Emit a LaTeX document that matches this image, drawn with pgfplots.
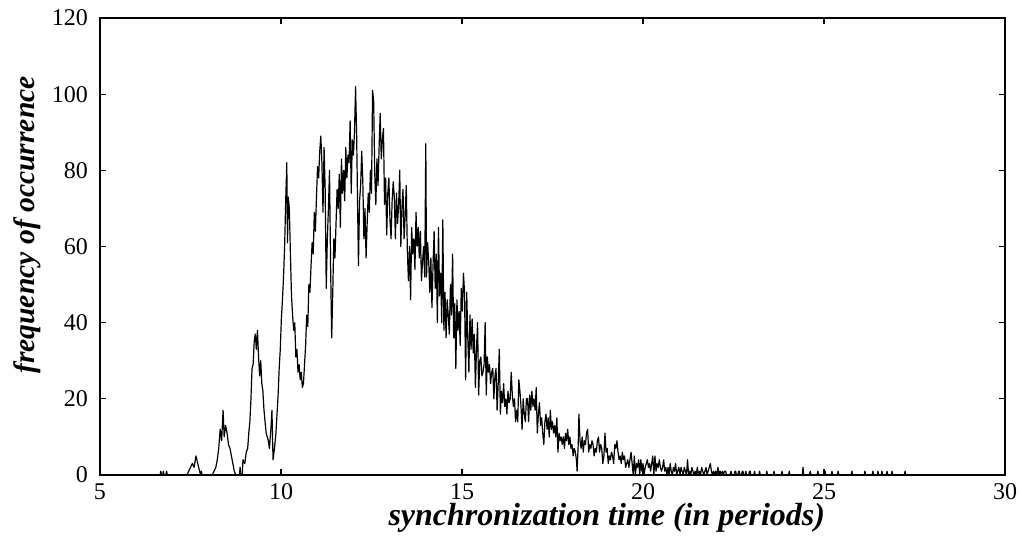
\documentclass[border=0pt]{standalone}
\usepackage{pgfplots}
\pgfplotsset{compat=1.18}
\usepackage{fontspec}
\setmainfont{Liberation Serif}
\begin{document}
\begin{tikzpicture}
\begin{axis}[
  name=ax,
  scale only axis,
  width=452.5pt, height=228.5pt,
  xmin=5, xmax=30, ymin=0, ymax=120,
  xtick={5,10,15,20,25,30},
  ytick={0,20,40,60,80,100,120},
  tick align=inside,
  major tick length=3pt,
  tick style={line width=0.6pt,black},
  axis line style={line width=0.9pt},
  /pgf/number format/assume math mode=true,
  ticklabel style={font=\fontsize{12}{14}\selectfont},
  yticklabel style={xshift=-2.5pt},
  xticklabel style={inner sep=0pt, anchor=north, yshift=-4pt},
  xlabel={synchronization time (in periods)},
  ylabel={frequency of occurrence},
  xlabel style={at={(axis description cs:0.56,-0.11)},anchor=base,inner sep=0pt,font=\fontsize{16}{18}\selectfont\bfseries\itshape},
  ylabel style={at={(axis description cs:-0.072,0.547)},anchor=base,inner sep=0pt,font=\fontsize{14.8}{17}\selectfont\bfseries\itshape},
]
\addplot[black, line width=0.6pt, line join=round] table {
x y
6.60 0
6.66 0
6.68 1
6.70 0
6.73 0
6.75 1
6.77 0
6.82 0
6.84 1
6.86 0
7.40 0
7.45 1
7.50 2
7.55 3
7.60 2
7.65 5
7.70 3
7.75 1
7.78 0
7.80 1
7.82 0
8.10 0
8.15 1
8.20 2
8.24 4
8.28 7
8.32 12
8.36 9
8.40 17
8.43 10
8.47 13
8.51 11
8.55 8
8.59 7
8.63 5
8.67 3
8.71 1
8.75 0
8.85 0
8.87 2
8.89 0
8.93 0
8.95 4
9.00 3
9.04 6
9.08 7
9.11 11
9.14 14
9.17 20
9.20 28
9.23 29
9.26 35
9.29 37
9.32 33
9.35 38
9.38 31
9.41 26
9.44 30
9.47 24
9.50 22
9.53 17
9.56 14
9.59 11
9.62 10
9.65 9
9.68 7
9.72 12
9.75 17
9.78 4
9.82 7
9.86 11
9.89 16
9.92 21
9.95 28
9.98 33
10.01 41
10.04 46
10.07 52
10.10 60
10.13 72
10.16 82
10.18 61
10.20 73
10.23 70
10.26 58
10.29 47
10.32 42
10.35 38
10.38 40
10.41 31
10.44 33
10.47 27
10.50 29
10.53 25
10.56 27
10.59 23
10.62 24
10.65 29
10.68 34
10.71 42
10.74 39
10.77 50
10.80 48
10.83 55
10.86 61
10.89 58
10.92 69
10.95 64
10.98 73
11.01 81
11.04 78
11.07 85
11.10 89
11.13 82
11.16 69
11.19 86
11.22 75
11.25 49
11.28 62
11.31 70
11.34 80
11.37 55
11.40 36
11.43 48
11.46 62
11.49 57
11.52 66
11.55 75
11.58 70
11.61 79
11.64 65
11.67 83
11.70 74
11.73 80
11.76 72
11.79 86
11.82 78
11.85 84
11.88 82
11.91 93
11.94 74
11.97 88
12.00 84
12.03 90
12.06 102
12.09 89
12.12 68
12.14 55
12.17 72
12.20 76
12.23 85
12.26 77
12.29 62
12.32 70
12.35 57
12.38 66
12.41 74
12.44 69
12.47 80
12.50 74
12.53 101
12.56 98
12.59 79
12.62 71
12.65 83
12.68 76
12.71 86
12.74 95
12.77 83
12.80 88
12.83 91
12.86 71
12.89 78
12.92 63
12.95 74
12.98 78
13.01 67
13.04 62
13.07 72
13.10 77
13.13 73
13.16 62
13.19 74
13.22 66
13.25 71
13.28 80
13.31 60
13.34 70
13.37 75
13.40 62
13.43 68
13.46 76
13.49 59
13.52 51
13.55 60
13.58 46
13.61 65
13.64 58
13.67 62
13.70 54
13.73 69
13.76 60
13.79 65
13.82 57
13.85 64
13.88 51
13.91 56
13.94 60
13.97 52
14.00 87
14.02 52
14.05 61
14.08 56
14.11 48
14.14 57
14.17 44
14.20 55
14.23 64
14.26 49
14.29 58
14.32 40
14.35 65
14.38 47
14.41 53
14.44 40
14.47 67
14.50 38
14.53 48
14.56 36
14.59 46
14.62 42
14.65 37
14.68 50
14.71 42
14.74 58
14.77 36
14.80 45
14.83 28
14.86 46
14.89 38
14.92 43
14.95 34
14.98 49
15.01 43
15.04 53
15.07 48
15.10 25
15.13 48
15.16 36
15.19 27
15.22 42
15.25 33
15.28 41
15.31 32
15.34 37
15.37 23
15.40 33
15.43 40
15.46 21
15.49 30
15.52 31
15.55 26
15.58 27
15.61 29
15.64 40
15.67 21
15.70 31
15.73 27
15.76 29
15.79 24
15.82 27
15.85 28
15.88 20
15.91 26
15.94 28
15.97 17
16.00 24
16.03 33
16.06 16
16.09 22
16.12 19
16.15 24
16.18 18
16.21 20
16.24 16
16.27 22
16.30 19
16.33 20
16.36 27
16.39 21
16.42 18
16.45 20
16.48 14
16.51 17
16.54 14
16.57 25
16.60 22
16.63 18
16.66 12
16.69 20
16.72 16
16.75 14
16.78 20
16.81 20
16.84 14
16.87 21
16.90 17
16.93 22
16.96 18
16.99 20
17.02 17
17.05 23
17.08 11
17.11 16
17.14 19
17.17 13
17.20 15
17.23 11
17.26 8
17.29 14
17.32 16
17.35 12
17.38 15
17.41 10
17.44 17
17.47 12
17.50 14
17.53 11
17.56 13
17.59 10
17.62 15
17.65 6
17.68 11
17.71 9
17.74 10
17.77 8
17.80 10
17.83 7
17.86 11
17.89 9
17.92 12
17.95 8
17.98 10
18.01 7
18.04 8
18.07 5
18.10 7
18.13 6
18.16 4
18.18 1
18.21 8
18.23 16
18.26 9
18.29 7
18.32 10
18.35 6
18.38 9
18.41 8
18.44 11
18.47 12
18.50 6
18.53 8
18.56 7
18.59 9
18.62 8
18.65 5
18.68 7
18.71 6
18.74 9
18.77 10
18.80 6
18.83 8
18.86 7
18.89 3
18.92 5
18.95 11
18.98 6
19.01 7
19.04 3
19.07 5
19.10 4
19.13 6
19.16 5
19.19 3
19.22 8
19.25 7
19.28 9
19.31 6
19.34 4
19.37 5
19.40 3
19.43 6
19.46 4
19.49 5
19.52 2
19.55 3
19.58 4
19.61 2
19.64 4
19.67 6
19.70 3
19.73 0
19.76 5
19.79 0
19.82 3
19.85 2
19.88 4
19.91 0
19.94 4
19.97 1
20.00 3
20.03 0
20.06 2
20.09 3
20.12 4
20.15 2
20.18 3
20.21 1
20.24 3
20.27 5
20.30 0
20.33 5
20.36 1
20.39 3
20.42 2
20.45 4
20.48 2
20.51 1
20.54 2
20.57 4
20.60 1
20.63 2
20.66 0
20.69 2
20.72 0
20.75 3
20.78 1
20.81 0
20.84 2
20.87 1
20.90 3
20.93 0
20.96 1
20.99 2
21.02 0
21.05 2
21.08 1
21.11 0
21.14 2
21.17 1
21.20 0
21.23 4
21.26 0
21.29 1
21.32 0
21.35 2
21.38 1
21.41 0
21.44 1
21.47 0
21.50 2
21.53 0
21.56 1
21.59 0
21.62 2
21.65 1
21.68 0
21.71 1
21.74 2
21.77 0
21.80 1
21.83 2
21.86 3
21.89 1
21.92 0
21.95 1
21.98 0
22.01 1
22.04 0
22.07 2
22.10 0
22.13 1
22.16 0
22.19 1
22.22 0
22.25 1
22.28 1
22.31 0
22.40 0
22.43 1
22.46 0
22.52 0
22.54 1
22.56 1
22.58 0
22.62 0
22.64 1
22.66 1
22.68 0
22.72 0
22.74 1
22.76 1
22.78 0
22.82 0
22.84 1
22.86 0
22.92 0
22.94 1
22.96 1
22.98 0
23.06 0
23.08 1
23.10 0
23.20 0
23.22 1
23.24 0
23.40 0
23.42 1
23.44 0
23.60 0
23.62 1
23.64 0
23.82 0
23.84 1
23.86 0
24.02 0
24.04 1
24.06 0
24.40 0
24.42 2
24.44 0
24.60 0
24.62 1
24.64 0
24.81 0
24.83 1
24.85 0
25.01 0
25.03 1
25.05 0
25.20 0
25.22 1
25.24 0
25.37 0
25.39 1
25.41 0
25.75 0
25.77 1
25.79 0
26.11 0
26.13 1
26.15 0
26.33 0
26.35 1
26.37 0
26.47 0
26.49 1
26.51 0
26.58 0
26.60 1
26.62 0
26.72 0
26.74 1
26.76 0
26.86 0
26.88 1
26.90 0
27.22 0
27.24 1
27.26 0
};
\end{axis}
\pgfresetboundingbox
\useasboundingbox ([shift={(-50pt,-32pt)}]ax.south west) rectangle ([shift={(8.5pt,9pt)}]ax.north east);
\end{tikzpicture}
\end{document}
